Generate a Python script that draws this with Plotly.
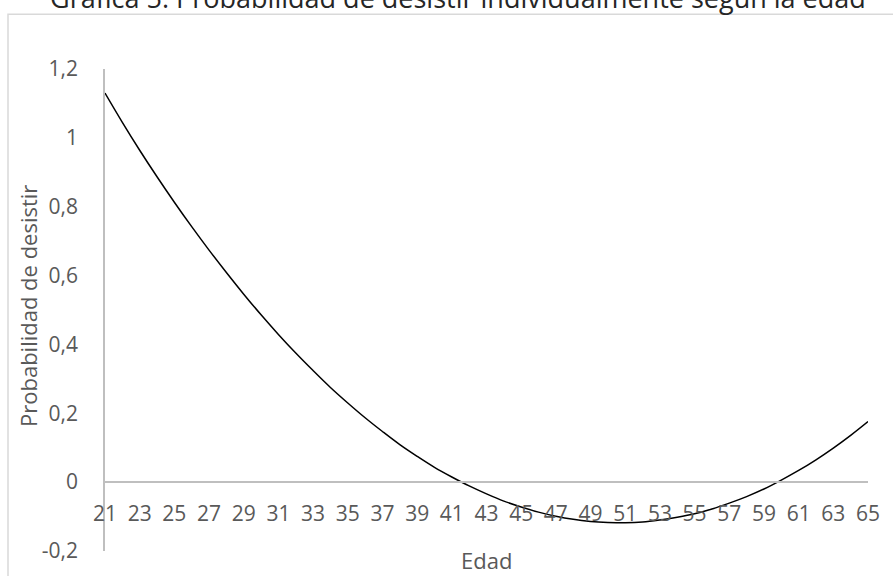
import plotly.graph_objects as go

# Edad (años) y probabilidad estimada de desistir
edades = list(range(21, 66))
probabilidad = [
    1.130, 1.045, 0.964, 0.887, 0.813, 0.742, 0.674, 0.609, 0.546, 0.486,
    0.429, 0.375, 0.324, 0.275, 0.230, 0.187, 0.147, 0.109, 0.075, 0.043,
    0.015, -0.011, -0.034, -0.055, -0.072, -0.087, -0.099, -0.108, -0.114, -0.117,
    -0.118, -0.116, -0.110, -0.102, -0.092, -0.078, -0.061, -0.042, -0.020, 0.006,
    0.034, 0.065, 0.099, 0.136, 0.176,
]
x_ticks = list(range(21, 66, 2))
x_ticktext = [str(v) for v in x_ticks]
y_ticks = [-0.2, 0, 0.2, 0.4, 0.6, 0.8, 1, 1.2]
y_ticktext = ["-0,2", "0", "0,2", "0,4", "0,6", "0,8", "1", "1,2"]

W, H = 893, 576
L, R, T, B = 105, 25, 69, 23
PW, PH = W - L - R, H - T - B


def fx(px):
    return (px - L) / PW


def fy(py):
    return (H - B - py) / PH


FONT = "Open Sans"
GRAY = "#595959"
AXIS = "#bfbfbf"

fig = go.Figure(
    go.Scatter(
        x=edades,
        y=probabilidad,
        mode="lines",
        line=dict(color="black", width=1.5, shape="spline"),
        hoverinfo="x+y",
    )
)

fig.update_layout(
    width=W,
    height=H,
    margin=dict(l=L, r=R, t=T, b=B, pad=0),
    paper_bgcolor="white",
    plot_bgcolor="white",
    showlegend=False,
    font=dict(family=FONT, color=GRAY),
    xaxis=dict(
        range=[21, 65],
        tickmode="array",
        tickvals=x_ticks,
        ticktext=x_ticktext,
        showgrid=False,
        zeroline=False,
        showline=True,
        linecolor=AXIS,
        linewidth=1.5,
        ticks="",
        ticklabelstandoff=13,
        tickfont=dict(size=21, color=GRAY, family=FONT),
        anchor="free",
        position=0.2 / 1.4,
    ),
    yaxis=dict(
        range=[-0.2, 1.2],
        tickmode="array",
        tickvals=y_ticks,
        ticktext=y_ticktext,
        showgrid=False,
        zeroline=False,
        showline=True,
        linecolor=AXIS,
        linewidth=1.5,
        ticks="",
        ticklabelstandoff=21,
        tickfont=dict(size=21, color=GRAY, family=FONT),
    ),
    shapes=[
        dict(
            type="rect",
            xref="paper",
            yref="paper",
            x0=fx(8),
            x1=fx(905),
            y0=fy(590),
            y1=fy(14),
            line=dict(color="#d9d9d9", width=1.5),
            fillcolor="rgba(0,0,0,0)",
            layer="below",
        )
    ],
    annotations=[
        dict(
            text="Gráfica 5: Probabilidad de desistir individualmente según la edad",
            xref="paper",
            yref="paper",
            x=fx(458),
            y=fy(-3),
            xanchor="center",
            yanchor="middle",
            showarrow=False,
            font=dict(size=27, color="#262626", family=FONT),
        ),
        dict(
            text="Probabilidad de desistir",
            xref="paper",
            yref="paper",
            x=fx(28),
            y=fy(307),
            xanchor="center",
            yanchor="middle",
            textangle=-90,
            showarrow=False,
            font=dict(size=22, color=GRAY, family=FONT),
        ),
        dict(
            text="Edad",
            xref="paper",
            yref="paper",
            x=fx(486),
            y=fy(562),
            xanchor="center",
            yanchor="middle",
            showarrow=False,
            font=dict(size=22, color=GRAY, family=FONT),
        ),
    ],
)

fig.write_html("out.html")
